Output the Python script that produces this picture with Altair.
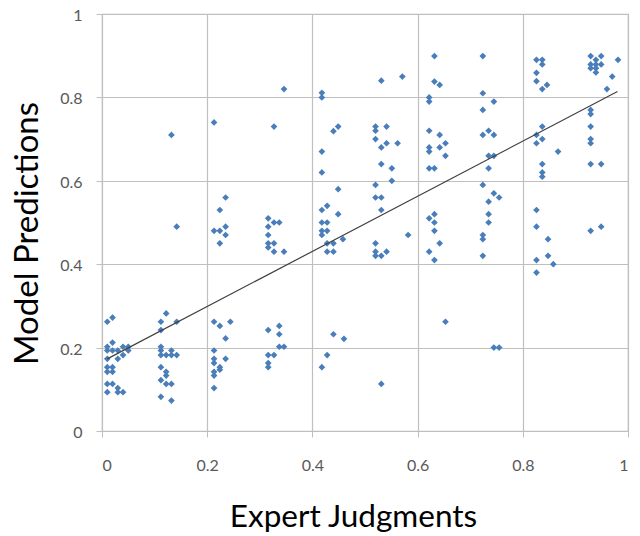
import altair as alt
import pandas as pd

# Expert judgments (x) and model predictions (y)
expert = [
    0.010, 0.020, 0.020, 0.010, 0.010, 0.020, 0.030, 0.040, 0.050, 0.050, 0.040, 0.030,
    0.010, 0.010, 0.020, 0.010, 0.020, 0.010, 0.020, 0.030, 0.010, 0.030, 0.040,
    0.122, 0.112, 0.142, 0.112, 0.112, 0.112, 0.112, 0.122, 0.132, 0.132, 0.142, 0.112,
    0.122, 0.122, 0.112, 0.122, 0.132, 0.112, 0.132, 0.132, 0.142,
    0.213, 0.224, 0.244, 0.235, 0.213, 0.213, 0.235, 0.213, 0.224, 0.224, 0.213, 0.213,
    0.213, 0.213, 0.235, 0.224, 0.213, 0.224, 0.235, 0.235, 0.224,
    0.316, 0.337, 0.337, 0.337, 0.346, 0.316, 0.327, 0.316, 0.316, 0.316, 0.327, 0.337,
    0.316, 0.316, 0.327, 0.316, 0.316, 0.327, 0.346, 0.327, 0.346,
    0.418, 0.418, 0.440, 0.449, 0.418, 0.418, 0.449, 0.418, 0.428, 0.449, 0.418, 0.428,
    0.418, 0.428, 0.418, 0.428, 0.440, 0.458, 0.428, 0.440, 0.418, 0.428, 0.440, 0.460,
    0.531, 0.571, 0.520, 0.520, 0.541, 0.520, 0.541, 0.531, 0.562, 0.531, 0.551, 0.551,
    0.520, 0.520, 0.531, 0.531, 0.582, 0.520, 0.520, 0.520, 0.531, 0.541, 0.531,
    0.632, 0.632, 0.642, 0.622, 0.622, 0.622, 0.642, 0.653, 0.622, 0.622, 0.642, 0.653,
    0.622, 0.632, 0.622, 0.632, 0.632, 0.632, 0.642, 0.622, 0.632, 0.653,
    0.724, 0.724, 0.745, 0.724, 0.724, 0.735, 0.745, 0.735, 0.745, 0.735, 0.724, 0.745,
    0.755, 0.735, 0.735, 0.735, 0.724, 0.724, 0.724, 0.745, 0.755,
    0.826, 0.837, 0.837, 0.826, 0.826, 0.846, 0.837, 0.837, 0.826, 0.826, 0.837, 0.867,
    0.837, 0.837, 0.837, 0.826, 0.826, 0.848, 0.826, 0.848, 0.858, 0.826,
    0.929, 0.949, 0.939, 0.929, 0.939, 0.949, 0.929, 0.939, 0.939, 0.981, 0.970, 0.960,
    0.929, 0.929, 0.929, 0.929, 0.929, 0.929, 0.949, 0.929, 0.949,
]
model = [
    0.262, 0.272, 0.212, 0.202, 0.193, 0.193, 0.193, 0.202, 0.202, 0.193, 0.182, 0.173,
    0.173, 0.153, 0.153, 0.142, 0.142, 0.113, 0.113, 0.103, 0.093, 0.093, 0.093,
    0.282, 0.262, 0.262, 0.242, 0.202, 0.193, 0.182, 0.182, 0.193, 0.182, 0.182, 0.153,
    0.142, 0.133, 0.122, 0.113, 0.113, 0.082, 0.073, 0.710, 0.490,
    0.262, 0.252, 0.262, 0.222, 0.193, 0.173, 0.173, 0.163, 0.153, 0.147, 0.142, 0.133,
    0.103, 0.740, 0.560, 0.530, 0.480, 0.480, 0.490, 0.470, 0.450,
    0.242, 0.252, 0.232, 0.202, 0.202, 0.182, 0.182, 0.163, 0.153, 0.510, 0.500, 0.500,
    0.490, 0.470, 0.450, 0.450, 0.440, 0.430, 0.430, 0.730, 0.820,
    0.811, 0.800, 0.719, 0.730, 0.670, 0.620, 0.580, 0.530, 0.540, 0.520, 0.500, 0.500,
    0.480, 0.480, 0.470, 0.450, 0.450, 0.460, 0.430, 0.430, 0.153, 0.182, 0.232, 0.221,
    0.840, 0.850, 0.730, 0.720, 0.730, 0.700, 0.690, 0.680, 0.690, 0.640, 0.630, 0.600,
    0.590, 0.560, 0.560, 0.530, 0.470, 0.450, 0.430, 0.420, 0.420, 0.430, 0.113,
    0.899, 0.838, 0.830, 0.800, 0.790, 0.720, 0.710, 0.690, 0.680, 0.670, 0.680, 0.660,
    0.630, 0.630, 0.510, 0.520, 0.500, 0.480, 0.450, 0.430, 0.410, 0.262,
    0.899, 0.810, 0.790, 0.770, 0.710, 0.720, 0.710, 0.660, 0.660, 0.630, 0.590, 0.570,
    0.560, 0.550, 0.520, 0.500, 0.470, 0.460, 0.420, 0.200, 0.200,
    0.890, 0.890, 0.879, 0.859, 0.839, 0.830, 0.820, 0.730, 0.710, 0.690, 0.700, 0.670,
    0.640, 0.620, 0.610, 0.530, 0.490, 0.460, 0.410, 0.420, 0.400, 0.380,
    0.899, 0.899, 0.890, 0.879, 0.879, 0.879, 0.870, 0.870, 0.860, 0.890, 0.850, 0.820,
    0.770, 0.760, 0.730, 0.700, 0.690, 0.640, 0.640, 0.480, 0.490,
]
# Linear trendline as drawn in the picture (its two ends)
trend_x = [0.01, 0.98]
trend_y = [0.173, 0.814]
tick_values = [0, 0.2, 0.4, 0.6, 0.8, 1]

df = pd.DataFrame({"expert": expert, "model": model})
df_trend = pd.DataFrame({"expert": trend_x, "model": trend_y})

axis_style = dict(
    values=tick_values, format="~g",
    grid=True, gridColor="#bfbfbf", gridWidth=1.2,
    domain=False, ticks=True, tickColor="#bfbfbf", tickSize=6,
    labelFont="Lato", labelFontSize=16, labelColor="#595959",
    titleFont="Lato", titleColor="#000000", titleFontWeight="normal",
)

x_enc = alt.X(
    "expert:Q",
    scale=alt.Scale(domain=[0, 1], nice=False, zero=False),
    axis=alt.Axis(title="Expert Judgments", labelPadding=20, titleFontSize=31.5,
                  titleX=251, titleY=95, titleAlign="center", titleBaseline="alphabetic",
                  **axis_style),
)
y_enc = alt.Y(
    "model:Q",
    scale=alt.Scale(domain=[0, 1], nice=False, zero=False),
    axis=alt.Axis(title="Model Predictions", labelPadding=14, labelOffset=1.5,
                  titleFontSize=33,
                  titleAngle=270, titleX=-65, titleY=219, titleAlign="center",
                  titleBaseline="alphabetic", **axis_style),
)

points = alt.Chart(df).mark_point(
    shape="diamond", filled=True, size=45, color="#4a7ebb", opacity=1
).encode(x=x_enc, y=y_enc)

trend = alt.Chart(df_trend).mark_line(
    color="#404040", strokeWidth=1.2
).encode(x="expert:Q", y="model:Q")

chart = alt.layer(points, trend).properties(
    width=526, height=417,
    autosize=alt.AutoSizeParams(type="none"),
    padding={"left": 94, "top": 6, "right": 4, "bottom": 105},
).configure_view(stroke="#bfbfbf", strokeWidth=1.2)

chart.save("out.html", embed_options={"renderer": "svg", "actions": False})
